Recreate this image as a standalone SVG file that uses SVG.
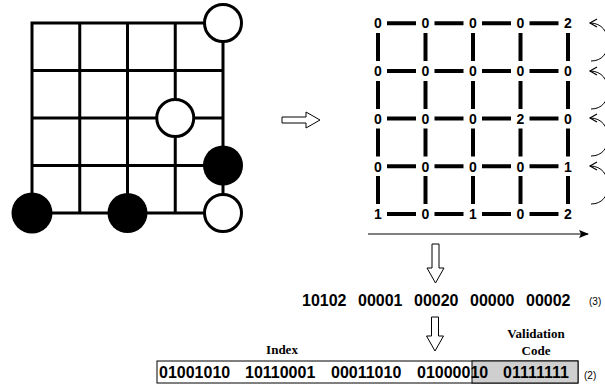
<svg xmlns="http://www.w3.org/2000/svg" width="605" height="392" viewBox="0 0 605 392">
<style>
.g{stroke:#000;stroke-width:3;fill:none;stroke-linecap:square}
.ow{fill:#fff;stroke:#000;stroke-width:3}
.bk{fill:#000}
.n{font-family:"Liberation Sans",Arial,sans-serif;font-weight:bold;font-size:14px;text-anchor:middle}
.hb{stroke:#000;stroke-width:4}
.big{font-family:"Liberation Sans",Arial,sans-serif;font-weight:bold;font-size:16px}
.sm{font-family:"Liberation Sans",Arial,sans-serif;font-size:10px}
.lb{font-family:"Liberation Serif","Times New Roman",serif;font-weight:bold;font-size:13px;text-anchor:middle}
.hol{fill:#fff;stroke:#000;stroke-width:1}
.thin{stroke:#000;stroke-width:1;fill:none}
</style>
<defs>
<marker id="fa" markerWidth="10" markerHeight="8" refX="9" refY="4" orient="auto" markerUnits="userSpaceOnUse">
<path d="M0,0 L10,4 L0,8 L2,4 Z" fill="#000"/>
</marker>
<marker id="oa" markerWidth="10" markerHeight="10" refX="8" refY="5" orient="auto" markerUnits="userSpaceOnUse">
<path d="M1,1 L8,5 L1,9" fill="none" stroke="#000" stroke-width="1.2"/>
</marker>
</defs>

<g id="board">
<path class="g" d="M32,23 H223 M32,70.5 H223 M32,118 H223 M32,165.5 H223 M32,213 H223 M32,23 V213 M79.75,23 V213 M127.5,23 V213 M175.25,23 V213 M223,23 V213"/>
<circle class="ow" cx="223" cy="23" r="18.5"/>
<circle class="ow" cx="175.25" cy="118" r="18.5"/>
<circle class="bk" cx="223" cy="165.5" r="20"/>
<circle class="bk" cx="32" cy="213" r="20.5"/>
<circle class="bk" cx="127.5" cy="213" r="20"/>
<circle class="ow" cx="223" cy="213" r="18.5"/>
</g>

<g id="arrow-right">
<polygon class="hol" points="282,117 306,117 306,112 320,120 306,128 306,123 282,123"/>
</g>

<g id="matrix">
<g id="matrix-bars">
<path class="hb" d="M387,23.2 H416 M434.5,23.2 H463.5 M482,23.2 H511 M529.5,23.2 H558.5
M387,70.9 H416 M434.5,70.9 H463.5 M482,70.9 H511 M529.5,70.9 H558.5
M387,118.6 H416 M434.5,118.6 H463.5 M482,118.6 H511 M529.5,118.6 H558.5
M387,166.3 H416 M434.5,166.3 H463.5 M482,166.3 H511 M529.5,166.3 H558.5
M387,214 H416 M434.5,214 H463.5 M482,214 H511 M529.5,214 H558.5
M378,33 V61 M425.5,33 V61 M473,33 V61 M520.5,33 V61 M568,33 V61
M378,81 V109 M425.5,81 V109 M473,81 V109 M520.5,81 V109 M568,81 V109
M378,128.5 V156.5 M425.5,128.5 V156.5 M473,128.5 V156.5 M520.5,128.5 V156.5 M568,128.5 V156.5
M378,176 V204 M425.5,176 V204 M473,176 V204 M520.5,176 V204 M568,176 V204"/>
</g>
<g id="matrix-values">
<text class="n" x="378" y="28.4">0</text><text class="n" x="425.5" y="28.4">0</text><text class="n" x="473" y="28.4">0</text><text class="n" x="520.5" y="28.4">0</text><text class="n" x="568" y="28.4">2</text>
<text class="n" x="378" y="76.1">0</text><text class="n" x="425.5" y="76.1">0</text><text class="n" x="473" y="76.1">0</text><text class="n" x="520.5" y="76.1">0</text><text class="n" x="568" y="76.1">0</text>
<text class="n" x="378" y="123.8">0</text><text class="n" x="425.5" y="123.8">0</text><text class="n" x="473" y="123.8">0</text><text class="n" x="520.5" y="123.8">2</text><text class="n" x="568" y="123.8">0</text>
<text class="n" x="378" y="171.5">0</text><text class="n" x="425.5" y="171.5">0</text><text class="n" x="473" y="171.5">0</text><text class="n" x="520.5" y="171.5">0</text><text class="n" x="568" y="171.5">1</text>
<text class="n" x="378" y="219.2">1</text><text class="n" x="425.5" y="219.2">0</text><text class="n" x="473" y="219.2">1</text><text class="n" x="520.5" y="219.2">0</text><text class="n" x="568" y="219.2">2</text>
</g>
</g>

<g id="connectors">
<line class="thin" x1="368" y1="234" x2="588" y2="234" marker-end="url(#fa)"/>
<path class="thin" d="M591,61 C602,61 608,53 608,43 C608,32 602,23 590,23" marker-end="url(#oa)"/>
<path class="thin" d="M591,109 C602,109 608,101 608,91 C608,80 602,71 590,71" marker-end="url(#oa)"/>
<path class="thin" d="M591,156 C602,156 608,148 608,138 C608,127 602,118 590,118" marker-end="url(#oa)"/>
<path class="thin" d="M591,204 C602,204 608,196 608,186 C608,175 602,166 590,166" marker-end="url(#oa)"/>
</g>

<g id="arrow-down-1">
<polygon class="hol" points="432,244 439,244 439,268 444,268 435.5,283 427,268 432,268"/>
</g>

<g id="sequence">
<text class="big" x="302" y="306">10102</text>
<text class="big" x="358" y="306">00001</text>
<text class="big" x="414" y="306">00020</text>
<text class="big" x="470" y="306">00000</text>
<text class="big" x="526" y="306">00002</text>
<text class="sm" x="589" y="305">(3)</text>
</g>

<g id="arrow-down-2">
<polygon class="hol" points="431.5,317 438.5,317 438.5,336 443.5,336 435,351 426.5,336 431.5,336"/>
</g>

<g id="labels">
<text class="lb" x="282" y="354">Index</text>
<text class="lb" x="536" y="338">Validation</text>
<text class="lb" x="536" y="355">Code</text>
</g>

<g id="code">
<rect x="157" y="361" width="421" height="22" fill="#fff" stroke="#000" stroke-width="1"/>
<rect x="472" y="361" width="106" height="22" fill="#cfcfcf" stroke="#000" stroke-width="1"/>
<text class="big" x="159" y="378">01001010</text>
<text class="big" x="245" y="378">10110001</text>
<text class="big" x="331" y="378">00011010</text>
<text class="big" x="417" y="378">01000010</text>
<text class="big" x="503" y="378">01111111</text>
<text class="sm" x="584" y="379">(2)</text>
</g>
</svg>
